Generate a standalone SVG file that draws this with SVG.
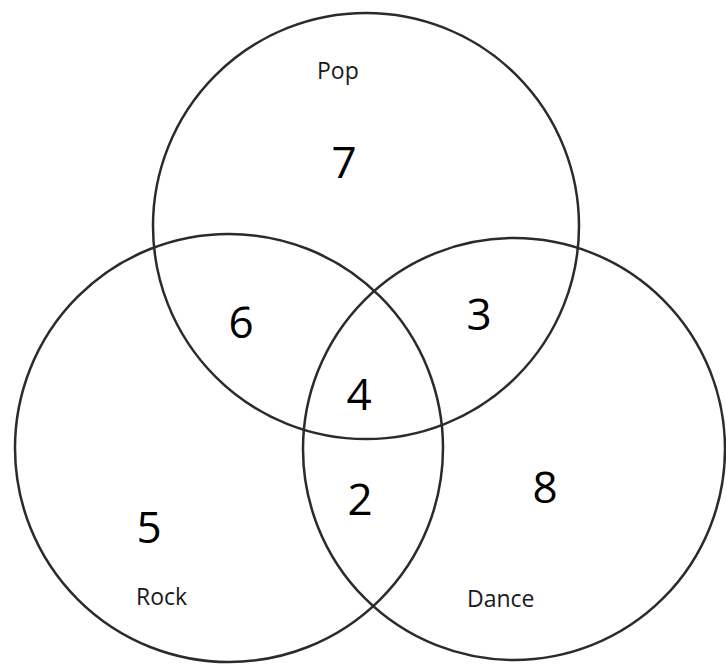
<svg xmlns="http://www.w3.org/2000/svg" width="726" height="664" viewBox="0 0 726 664">
<style>
.c{fill:none;stroke:#2b2b2b;stroke-width:2.5}
.n{font-family:"Open Sans","Liberation Sans",sans-serif;font-size:44px;fill:#000;text-anchor:middle}
.l{font-family:"Open Sans","Liberation Sans",sans-serif;font-size:23px;fill:#1a1a1a}
</style>
<rect width="726" height="664" fill="#fff"/>
<g id="connectors"></g>
<g id="pop"><circle class="c" cx="366" cy="226" r="213"/><text class="l" x="317" y="79">Pop</text></g>
<g id="rock"><circle class="c" cx="229" cy="448" r="214"/><text class="l" x="136" y="605">Rock</text></g>
<g id="dance"><circle class="c" cx="514" cy="449" r="211"/><text class="l" x="467" y="607">Dance</text></g>
<g id="v7"><text class="n" x="344" y="178">7</text></g>
<g id="v6"><text class="n" x="241" y="338">6</text></g>
<g id="v3"><text class="n" x="479" y="330">3</text></g>
<g id="v4"><text class="n" x="359" y="410">4</text></g>
<g id="v2"><text class="n" x="360" y="515">2</text></g>
<g id="v5"><text class="n" x="149" y="543">5</text></g>
<g id="v8"><text class="n" x="545" y="503">8</text></g>
</svg>
